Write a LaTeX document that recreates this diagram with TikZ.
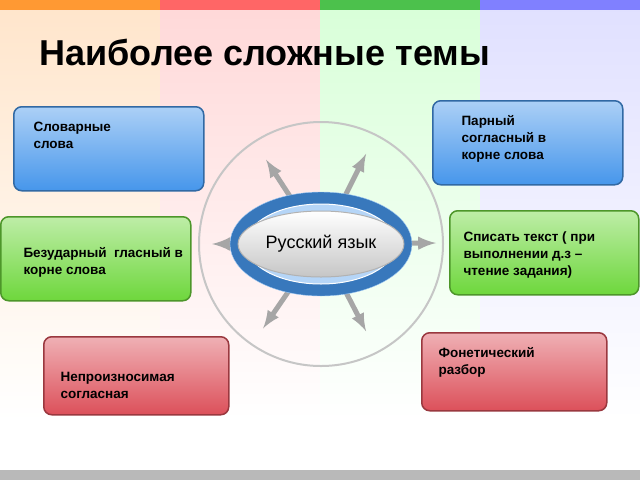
\documentclass[tikz,border=0pt]{standalone}
\usepackage{fontspec}
\setmainfont{Liberation Sans}
\usetikzlibrary{shapes.geometric}
\tikzset{
  topic/.style={draw=#1!70!black, line width=1.5pt, rounded corners=8pt,
    top color=#1!45, bottom color=#1, anchor=north west, align=left,
    font=\bfseries\fontsize{12}{15}\selectfont, inner sep=0pt},
  label/.style={anchor=north west, align=left, font=\bfseries\fontsize{13.5}{17}\selectfont},
  spoke/.style={-latex, line width=5pt, draw=gray!70, shorten >=2pt}
}
\definecolor{tblue}{RGB}{70,150,235}
\definecolor{tgreen}{RGB}{110,215,60}
\definecolor{tred}{RGB}{220,80,90}
\begin{document}
\begin{tikzpicture}[x=1pt,y=-1pt]
  \useasboundingbox (0,0) rectangle (640,480);
  % background stripes
  \fill[orange!80] (0,0) rectangle (160,10);
  \fill[red!60] (160,0) rectangle (320,10);
  \fill[green!65!black!70] (320,0) rectangle (480,10);
  \fill[blue!50] (480,0) rectangle (640,10);
  \shade[top color=orange!20, bottom color=white] (0,10) rectangle (160,420);
  \shade[top color=red!15, bottom color=white] (160,10) rectangle (320,420);
  \shade[top color=green!15, bottom color=white] (320,10) rectangle (480,420);
  \shade[top color=blue!12, bottom color=white] (480,10) rectangle (640,420);
  \fill[gray!55] (0,470) rectangle (640,480);
  \node[font=\bfseries\fontsize{36}{40}\selectfont, anchor=west] (title) at (36,52) {Наиболее сложные темы};
  % centre
  \draw[gray!45, line width=2pt] (321,244) circle (122);
  \coordinate (c) at (321,244);
  \foreach \tx/\ty in {265/158, 367/152, 210/244, 438/243, 262/330, 367/333}
    \draw[spoke] (c) -- (\tx,\ty);
  \node[ellipse, minimum width=182, minimum height=104, fill=tblue!80!black,
    draw=tblue!50] (ring) at (c) {};
  \node[ellipse, minimum width=150, minimum height=80, fill=tblue!40, draw=white, line width=1pt] at (c) {};
  \node[ellipse, minimum width=130, minimum height=66, top color=white, bottom color=gray!45,
    draw=gray!60, line width=1pt, font=\fontsize{18}{20}\selectfont] (core) at (c) {Русский язык};
  % topics
  \node[topic=tblue, minimum width=190, minimum height=84] (slov) at (13,106) {};
  \node[label] at (30,119) {Словарные\\слова};
  \node[topic=tblue, minimum width=190, minimum height=84] (par) at (432,100) {};
  \node[label] at (458,112) {Парный\\согласный в\\корне слова};
  \node[topic=tgreen, minimum width=190, minimum height=84] (bez) at (0,216) {};
  \node[label] at (20,244) {Безударный\ \ гласный в\\корне слова};
  \node[topic=tgreen, minimum width=189, minimum height=84] (spis) at (449,210) {};
  \node[label] at (460,228) {Списать текст ( при\\выполнении д.з –\\чтение задания)};
  \node[topic=tred, minimum width=185, minimum height=78] (nep) at (43,336) {};
  \node[label] at (57,369) {Непроизносимая\\согласная};
  \node[topic=tred, minimum width=185, minimum height=78] (fon) at (421,332) {};
  \node[label] at (435,344) {Фонетический\\разбор};
\end{tikzpicture}
\end{document}
